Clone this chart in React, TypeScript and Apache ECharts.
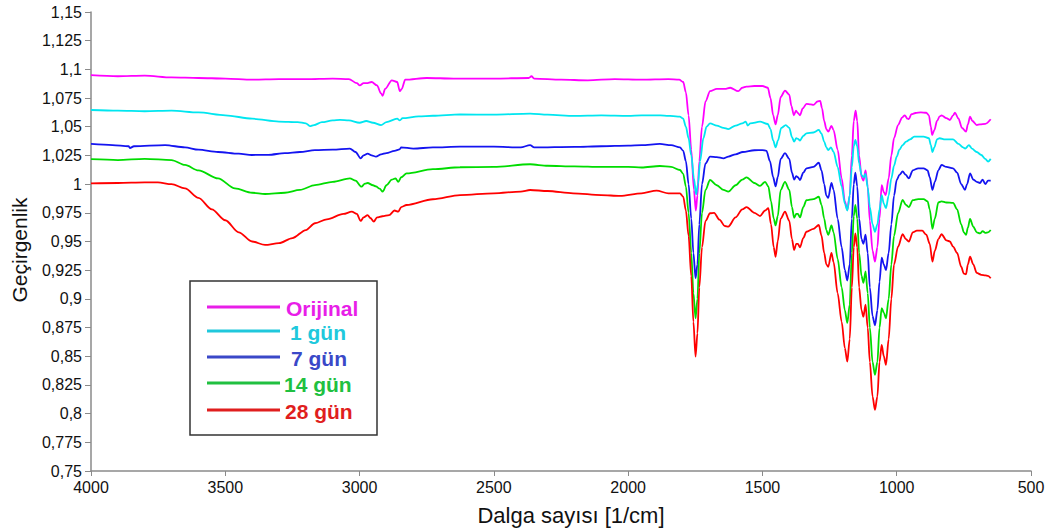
import React, { useEffect, useRef } from "react";
import * as echarts from "echarts";

const FONT = "'Liberation Sans', Arial, sans-serif";

const seriesNames = ["Orijinal", "1 gün", "7 gün", "14 gün", "28 gün"];
const lineColors = ["#ff00ff", "#00e6f0", "#1414f0", "#00dc00", "#ff0000"];
const legendTextColors = ["#e81ee8", "#20c8dc", "#3a48c8", "#20c040", "#e01e1e"];

const xAxisTitle = "Dalga sayısı [1/cm]";
const yAxisTitle = "Geçirgenlik";
const xTicks = [4000, 3500, 3000, 2500, 2000, 1500, 1000, 500];

// [wavenumber (1/cm), transmittance]
const orijinal: [number, number][] = [
  [4000, 1.095], [3900, 1.094], [3800, 1.0945], [3700, 1.093], [3600, 1.0925], [3500, 1.092],
  [3400, 1.091], [3300, 1.0915], [3200, 1.0915], [3100, 1.092], [3040, 1.0915], [3010, 1.088],
  [2999, 1.086], [2985, 1.088], [2974, 1.088], [2955, 1.089], [2935, 1.086], [2920, 1.079],
  [2914, 1.077], [2905, 1.083], [2880, 1.0905], [2860, 1.089], [2850, 1.081], [2843, 1.083],
  [2830, 1.091], [2750, 1.0925], [2650, 1.092], [2500, 1.092], [2370, 1.0925], [2360, 1.094],
  [2350, 1.092], [2250, 1.091], [2150, 1.0905], [2050, 1.0915], [1950, 1.091], [1850, 1.0915],
  [1810, 1.091], [1795, 1.089], [1785, 1.08], [1775, 1.06], [1765, 1.03], [1755, 0.995],
  [1748, 0.977], [1742, 0.99], [1735, 1.02], [1725, 1.05], [1712, 1.072], [1695, 1.081],
  [1670, 1.083], [1640, 1.083], [1620, 1.084], [1590, 1.081], [1575, 1.084], [1560, 1.085],
  [1530, 1.0855], [1500, 1.0855], [1480, 1.084], [1470, 1.075], [1460, 1.06], [1451, 1.052],
  [1443, 1.06], [1432, 1.076], [1416, 1.0815], [1400, 1.078], [1392, 1.068], [1383, 1.06],
  [1375, 1.064], [1368, 1.062], [1360, 1.06], [1350, 1.066], [1336, 1.07], [1320, 1.0695],
  [1310, 1.069], [1295, 1.072], [1285, 1.0725], [1278, 1.066], [1270, 1.055], [1262, 1.048],
  [1255, 1.0457], [1243, 1.0507], [1235, 1.047], [1220, 1.03], [1205, 1.005], [1193, 0.985],
  [1184, 0.9774], [1175, 0.99], [1167, 1.025], [1160, 1.055], [1153, 1.064], [1147, 1.055],
  [1140, 1.025], [1131, 1.006], [1124, 1.003], [1116, 1.012], [1108, 0.998], [1100, 0.968],
  [1090, 0.942], [1081, 0.9324], [1072, 0.945], [1064, 0.97], [1056, 0.999], [1048, 0.993],
  [1041, 0.9905], [1030, 1.005], [1020, 1.025], [1010, 1.04], [995, 1.0515], [980, 1.058],
  [970, 1.06], [960, 1.057], [955, 1.0567], [945, 1.061], [930, 1.062], [910, 1.0625],
  [890, 1.0622], [880, 1.06], [873, 1.05], [868, 1.0428], [860, 1.047], [850, 1.055],
  [840, 1.059], [833, 1.06], [815, 1.0575], [802, 1.0559], [790, 1.06], [783, 1.0622],
  [770, 1.057], [757, 1.049], [742, 1.0457], [735, 1.052], [727, 1.0588], [718, 1.055],
  [702, 1.0515], [690, 1.052], [670, 1.0525], [650, 1.0565],
];

const gun1: [number, number][] = [
  [4000, 1.0646], [3900, 1.064], [3800, 1.0635], [3700, 1.064], [3600, 1.0625], [3500, 1.06],
  [3400, 1.057], [3300, 1.0545], [3230, 1.054], [3200, 1.053], [3185, 1.0505], [3170, 1.0515],
  [3140, 1.054], [3100, 1.0555], [3073, 1.056], [3040, 1.0555], [3000, 1.0535], [2975, 1.055],
  [2950, 1.0535], [2920, 1.0515], [2900, 1.054], [2860, 1.057], [2850, 1.0555], [2840, 1.0575],
  [2780, 1.059], [2727, 1.0596], [2626, 1.0608], [2500, 1.0605], [2365, 1.0615], [2300, 1.0605],
  [2200, 1.0595], [2100, 1.06], [2000, 1.0595], [1950, 1.06], [1880, 1.06], [1808, 1.0588],
  [1795, 1.057], [1785, 1.05], [1775, 1.04], [1765, 1.025], [1755, 1.005], [1747, 0.991],
  [1740, 1.0], [1732, 1.02], [1720, 1.04], [1708, 1.05], [1695, 1.053], [1670, 1.051],
  [1645, 1.049], [1627, 1.048], [1600, 1.051], [1575, 1.053], [1562, 1.0545], [1555, 1.051],
  [1545, 1.053], [1509, 1.0544], [1480, 1.0524], [1470, 1.048], [1460, 1.038], [1451, 1.032],
  [1442, 1.038], [1430, 1.049], [1413, 1.0515], [1400, 1.049], [1390, 1.041], [1382, 1.037],
  [1374, 1.04], [1368, 1.0395], [1360, 1.038], [1348, 1.042], [1336, 1.0443], [1310, 1.045],
  [1290, 1.0472], [1280, 1.044], [1270, 1.037], [1262, 1.032], [1255, 1.0297], [1245, 1.032],
  [1235, 1.028], [1220, 1.015], [1205, 0.998], [1193, 0.983], [1184, 0.977], [1175, 0.99],
  [1167, 1.015], [1160, 1.033], [1154, 1.0385], [1147, 1.033], [1140, 1.018], [1131, 1.008],
  [1124, 1.006], [1116, 1.009], [1108, 0.997], [1100, 0.98], [1090, 0.965], [1081, 0.9585],
  [1072, 0.965], [1064, 0.978], [1056, 0.9905], [1048, 0.983], [1040, 0.979], [1030, 0.99],
  [1020, 1.005], [1010, 1.016], [1000, 1.024], [990, 1.03], [978, 1.034], [965, 1.037],
  [950, 1.039], [935, 1.0414], [900, 1.0414], [880, 1.04], [873, 1.034], [867, 1.028],
  [860, 1.032], [850, 1.039], [840, 1.04], [820, 1.039], [790, 1.039], [770, 1.035],
  [753, 1.032], [745, 1.031], [731, 1.034], [720, 1.031], [702, 1.028], [685, 1.0254],
  [670, 1.022], [660, 1.0196], [650, 1.022],
];

const gun7: [number, number][] = [
  [4000, 1.035], [3920, 1.034], [3860, 1.033], [3855, 1.0315], [3840, 1.033], [3724, 1.034],
  [3650, 1.032], [3600, 1.03], [3527, 1.028], [3450, 1.0265], [3401, 1.0254], [3340, 1.0255],
  [3278, 1.027], [3222, 1.028], [3166, 1.0297], [3100, 1.03], [3036, 1.031], [3015, 1.028],
  [2996, 1.0225], [2985, 1.025], [2970, 1.0265], [2955, 1.025], [2939, 1.024], [2920, 1.026],
  [2900, 1.027], [2870, 1.029], [2851, 1.0303], [2845, 1.032], [2800, 1.031], [2727, 1.032],
  [2626, 1.0326], [2500, 1.0326], [2400, 1.032], [2365, 1.034], [2350, 1.032], [2200, 1.0325],
  [2100, 1.033], [2000, 1.0335], [1950, 1.034], [1882, 1.035], [1840, 1.034], [1807, 1.032],
  [1795, 1.029], [1785, 1.02], [1775, 1.0], [1765, 0.97], [1757, 0.94], [1749, 0.918],
  [1742, 0.93], [1735, 0.965], [1725, 1.0], [1712, 1.018], [1695, 1.024], [1670, 1.0235],
  [1645, 1.0225], [1627, 1.024], [1600, 1.026], [1573, 1.028], [1530, 1.0295], [1500, 1.0297],
  [1485, 1.029], [1472, 1.02], [1460, 1.006], [1451, 0.998], [1443, 1.006], [1432, 1.022],
  [1416, 1.027], [1400, 1.022], [1390, 1.01], [1382, 1.004], [1374, 1.007], [1368, 1.006],
  [1360, 1.0036], [1348, 1.01], [1336, 1.0138], [1310, 1.015], [1290, 1.0187], [1280, 1.012],
  [1270, 1.0], [1262, 0.99], [1255, 0.988], [1243, 1.001], [1235, 0.995], [1220, 0.97],
  [1205, 0.945], [1193, 0.925], [1184, 0.916], [1175, 0.93], [1167, 0.97], [1160, 1.0],
  [1154, 1.01], [1147, 0.998], [1140, 0.97], [1131, 0.952], [1124, 0.948], [1116, 0.956],
  [1108, 0.94], [1100, 0.91], [1090, 0.885], [1081, 0.877], [1072, 0.89], [1064, 0.915],
  [1056, 0.936], [1048, 0.93], [1040, 0.925], [1030, 0.94], [1020, 0.965], [1010, 0.99],
  [1000, 1.0036], [990, 1.008], [978, 1.011], [966, 1.008], [955, 1.005], [940, 1.012],
  [920, 1.0138], [900, 1.0138], [885, 1.012], [877, 1.006], [867, 0.995], [858, 1.002],
  [845, 1.012], [833, 1.0167], [815, 1.015], [790, 1.0138], [775, 1.01], [760, 1.0],
  [746, 0.995], [738, 1.0], [727, 1.0094], [715, 1.004], [702, 1.002], [690, 1.001],
  [680, 1.004], [670, 1.0], [660, 1.003], [650, 1.003],
];

const gun14: [number, number][] = [
  [4000, 1.0217], [3900, 1.021], [3800, 1.022], [3700, 1.021], [3650, 1.0167], [3600, 1.012],
  [3527, 1.005], [3464, 0.9963], [3400, 0.9925], [3352, 0.9914], [3278, 0.9925], [3222, 0.995],
  [3166, 0.9992], [3100, 1.002], [3036, 1.005], [3015, 1.003], [2993, 0.9978], [2980, 1.0005],
  [2970, 1.001], [2950, 0.999], [2939, 0.998], [2925, 0.996], [2914, 0.9934], [2900, 0.999],
  [2880, 1.004], [2866, 1.005], [2856, 1.002], [2845, 1.006], [2825, 1.0094], [2727, 1.013],
  [2626, 1.0147], [2500, 1.015], [2365, 1.0173], [2300, 1.016], [2200, 1.0155], [2100, 1.015],
  [2000, 1.015], [1950, 1.0145], [1882, 1.0158], [1840, 1.015], [1807, 1.0123], [1795, 1.009],
  [1785, 0.998], [1775, 0.975], [1765, 0.94], [1757, 0.905], [1749, 0.883], [1742, 0.9],
  [1735, 0.94], [1725, 0.975], [1712, 0.995], [1695, 1.0036], [1670, 0.999], [1645, 0.995],
  [1627, 0.9934], [1600, 0.999], [1575, 1.004], [1559, 1.0059], [1530, 1.001], [1509, 0.9984],
  [1490, 1.002], [1478, 0.998], [1468, 0.985], [1458, 0.97], [1451, 0.964], [1443, 0.972],
  [1432, 0.995], [1416, 1.002], [1400, 0.995], [1390, 0.98], [1382, 0.9707], [1374, 0.974],
  [1368, 0.974], [1360, 0.971], [1348, 0.98], [1336, 0.986], [1310, 0.987], [1290, 0.989],
  [1280, 0.982], [1270, 0.97], [1262, 0.96], [1255, 0.9557], [1243, 0.964], [1235, 0.958],
  [1220, 0.935], [1205, 0.91], [1193, 0.89], [1184, 0.879], [1175, 0.895], [1167, 0.94],
  [1160, 0.972], [1154, 0.982], [1147, 0.97], [1140, 0.94], [1131, 0.92], [1124, 0.914],
  [1116, 0.924], [1108, 0.905], [1100, 0.875], [1090, 0.845], [1081, 0.8337], [1072, 0.845],
  [1064, 0.875], [1056, 0.892], [1048, 0.888], [1040, 0.883], [1030, 0.9], [1020, 0.93],
  [1010, 0.955], [995, 0.9746], [978, 0.9862], [966, 0.982], [955, 0.98], [940, 0.986],
  [920, 0.987], [900, 0.987], [885, 0.985], [877, 0.978], [867, 0.961], [858, 0.97],
  [845, 0.984], [833, 0.985], [815, 0.984], [790, 0.9836], [775, 0.978], [760, 0.965],
  [750, 0.958], [742, 0.9557], [735, 0.962], [727, 0.9697], [715, 0.963], [702, 0.958],
  [690, 0.957], [680, 0.959], [670, 0.9575], [660, 0.958], [650, 0.96],
];

const gun28: [number, number][] = [
  [4000, 1.0006], [3900, 1.001], [3800, 1.0015], [3751, 1.0015], [3700, 1.0], [3650, 0.9963],
  [3600, 0.988], [3550, 0.978], [3500, 0.9685], [3450, 0.958], [3400, 0.95], [3352, 0.947],
  [3300, 0.9485], [3250, 0.953], [3200, 0.96], [3166, 0.9659], [3122, 0.9693], [3060, 0.974],
  [3029, 0.976], [3010, 0.974], [2996, 0.9679], [2985, 0.971], [2970, 0.973], [2960, 0.9705],
  [2947, 0.9673], [2935, 0.971], [2915, 0.972], [2890, 0.973], [2870, 0.977], [2856, 0.976],
  [2845, 0.98], [2825, 0.9818], [2727, 0.9868], [2626, 0.9905], [2500, 0.992], [2400, 0.9935],
  [2365, 0.9949], [2300, 0.994], [2205, 0.992], [2100, 0.9905], [2030, 0.9897], [1950, 0.992],
  [1894, 0.9943], [1850, 0.992], [1807, 0.992], [1795, 0.989], [1785, 0.977], [1775, 0.955],
  [1765, 0.92], [1757, 0.88], [1749, 0.8497], [1742, 0.87], [1735, 0.91], [1725, 0.945],
  [1712, 0.968], [1695, 0.9746], [1680, 0.975], [1660, 0.969], [1640, 0.9635], [1627, 0.963],
  [1600, 0.971], [1575, 0.978], [1559, 0.98], [1530, 0.975], [1509, 0.9722], [1490, 0.977],
  [1478, 0.979], [1468, 0.965], [1458, 0.945], [1451, 0.9367], [1443, 0.95], [1432, 0.97],
  [1416, 0.976], [1400, 0.968], [1390, 0.952], [1382, 0.9426], [1374, 0.948], [1368, 0.948],
  [1360, 0.945], [1348, 0.953], [1336, 0.9585], [1310, 0.961], [1290, 0.9644], [1280, 0.955],
  [1270, 0.94], [1262, 0.93], [1255, 0.928], [1243, 0.94], [1235, 0.932], [1220, 0.905],
  [1205, 0.88], [1193, 0.857], [1184, 0.8453], [1175, 0.865], [1167, 0.91], [1160, 0.945],
  [1154, 0.957], [1147, 0.945], [1140, 0.91], [1131, 0.89], [1124, 0.8845], [1116, 0.895],
  [1108, 0.875], [1100, 0.845], [1090, 0.815], [1081, 0.8032], [1072, 0.815], [1064, 0.845],
  [1056, 0.8598], [1048, 0.85], [1040, 0.8424], [1030, 0.865], [1020, 0.9], [1010, 0.93],
  [995, 0.9455], [978, 0.9563], [966, 0.952], [955, 0.95], [940, 0.958], [925, 0.9594],
  [905, 0.9594], [890, 0.956], [877, 0.948], [867, 0.9324], [858, 0.942], [845, 0.952],
  [833, 0.9563], [815, 0.951], [802, 0.95], [790, 0.9455], [775, 0.94], [760, 0.928],
  [750, 0.922], [742, 0.9214], [735, 0.93], [727, 0.9367], [715, 0.93], [702, 0.9226],
  [685, 0.921], [670, 0.9205], [660, 0.92], [650, 0.918],
];

const allSeries = [orijinal, gun1, gun7, gun14, gun28];

function fmtComma(v: number): string {
  return String(+v.toFixed(3)).replace(".", ",");
}

export default function App() {
  const ref = useRef<HTMLDivElement>(null);

  useEffect(() => {
    if (!ref.current) return;
    const chart = echarts.init(ref.current, undefined, { renderer: "svg" });

    const legendX = 190;
    const legendY = 281;
    const legendRowY = [307, 331, 357, 383, 410];
    const legendTextX = [286, 290, 291, 284, 285];

    const graphics: any[] = [
      {
        type: "rect",
        shape: { x: legendX, y: legendY, width: 187, height: 154 },
        style: { fill: "#ffffff", stroke: "#333333", lineWidth: 1.5 },
        z: 100,
      },
      {
        type: "text",
        x: 571,
        y: 515,
        style: {
          text: xAxisTitle,
          fill: "#111",
          font: `22px ${FONT}`,
          align: "center",
          verticalAlign: "middle",
        },
      },
      {
        type: "text",
        x: 19,
        y: 250,
        rotation: Math.PI / 2,
        style: {
          text: yAxisTitle,
          fill: "#111",
          font: `21px ${FONT}`,
          align: "center",
          verticalAlign: "middle",
        },
      },
    ];
    seriesNames.forEach((name, i) => {
      graphics.push({
        type: "line",
        shape: { x1: 207, y1: legendRowY[i], x2: 280, y2: legendRowY[i] },
        style: { stroke: legendTextColors[i], lineWidth: 3 },
        z: 101,
      });
      graphics.push({
        type: "text",
        x: legendTextX[i],
        y: legendRowY[i] + 1,
        style: {
          text: name,
          fill: legendTextColors[i],
          font: `bold 21px ${FONT}`,
          verticalAlign: "middle",
          align: "left",
        },
        z: 101,
      });
    });

    chart.setOption({
      animation: false,
      backgroundColor: "#ffffff",
      grid: { left: 91, right: 19, top: 12, bottom: 60, containLabel: false },
      xAxis: {
        type: "value",
        min: 500,
        max: 4000,
        interval: 500,
        inverse: true,
        axisLine: { onZero: false, lineStyle: { color: "#8a8a8a", width: 1.5 } },
        axisTick: { show: true, length: 5, lineStyle: { color: "#8a8a8a", width: 1 } },
        axisLabel: {
          color: "#111",
          fontSize: 16,
          fontFamily: FONT,
          margin: 8,
          formatter: (v: number) => (xTicks.includes(v) ? String(v) : ""),
        },
        splitLine: { show: false },
      },
      yAxis: {
        type: "value",
        min: 0.75,
        max: 1.15,
        interval: 0.025,
        axisLine: { show: true, onZero: false, lineStyle: { color: "#8a8a8a", width: 1.5 } },
        axisTick: { show: true, length: 6, lineStyle: { color: "#8a8a8a", width: 1 } },
        axisLabel: {
          color: "#111",
          fontSize: 16,
          fontFamily: FONT,
          margin: 9,
          formatter: (v: number) => fmtComma(v),
        },
        splitLine: { show: false },
      },
      series: allSeries.map((data, i) => ({
        name: seriesNames[i],
        type: "line",
        data,
        showSymbol: false,
        smooth: 0.3,
        smoothMonotone: "x",
        lineStyle: { color: lineColors[i], width: 1.8 },
        itemStyle: { color: lineColors[i] },
        emphasis: { disabled: true },
        z: 2 + i,
      })),
      graphic: graphics,
    });

    return () => {
      chart.dispose();
    };
  }, []);

  return (
    <div
      ref={ref}
      style={{ position: "fixed", left: 0, top: 0, width: 1050, height: 531, background: "#fff" }}
    />
  );
}
